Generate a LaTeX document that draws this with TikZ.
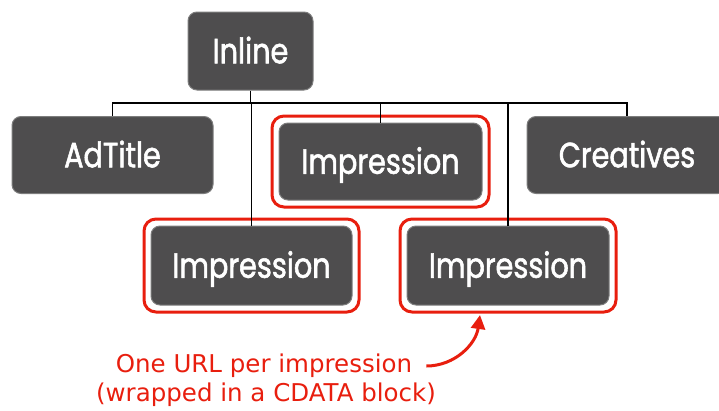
\documentclass[tikz,border=0pt]{standalone}
\usepackage{fontspec}
\setmainfont{Poppins}[FakeStretch=0.82, FakeBold=1.6]
\newfontfamily\notefont{DejaVu Sans}
\usetikzlibrary{arrows.meta,fit}
\definecolor{boxgray}{RGB}{78,77,78}
\definecolor{boxrim}{RGB}{125,125,125}
\definecolor{notered}{RGB}{232,30,14}
\begin{document}
\begin{tikzpicture}[x=1pt,y=-1pt,
    box/.style={fill=boxgray, draw=boxrim, line width=1pt, rounded corners=9pt,
      text=white, inner sep=0pt, minimum width=201pt, minimum height=77pt,
      font=\fontsize{35}{35}\selectfont, text height=24.5pt, text depth=0pt},
    frame/.style={draw=notered, line width=3pt, rounded corners=12pt, inner sep=6.5pt},
    link/.style={line width=1.4pt},
    note/.style={text=notered, inner sep=0pt, font=\notefont\fontsize{24.5}{24.5}\selectfont}]
    \useasboundingbox (0,0) rectangle (719,410);

    \node[box, minimum width=125pt, minimum height=78pt] (inline) at (250.5,51) {Inline};
    \node[box] (adtitle) at (112.5,155) {AdTitle};
    \node[box, minimum width=203pt] (impmid) at (380.5,161.5) {Impression};
    \node[box, minimum width=200pt] (creatives) at (627,155) {Creatives};
    \node[box, minimum height=79pt] (impleft) at (251.5,265.5) {Impression};
    \node[box, minimum width=202pt, minimum height=79pt] (impright) at (508,265.5) {Impression};

    \node[frame, fit=(impmid)] (framemid) {};
    \node[frame, fit=(impleft)] (frameleft) {};
    \node[frame, fit=(impright)] (frameright) {};

    \coordinate (bar) at (250.5,103);
    \coordinate (tip) at (480,315);
    \draw[link] (inline.south) -- (bar);
    \draw[link] (bar) -| (adtitle.north);
    \draw[link] (bar) -| (impmid.north);
    \draw[link] (bar) -| (creatives.north);
    \draw[link] (bar) -| (impleft.north);
    \draw[link] (bar) -| (impright.north);

    \node[note] (noteone) at (264,366) {One URL per impression};
    \node[note] (notetwo) at (266,395) {(wrapped in a CDATA block)};
    \draw[notered, line width=3pt, -{Triangle[length=14pt,width=14pt]}]
      ([xshift=14pt]noteone.east) to[out=0,in=262] (tip);
\end{tikzpicture}
\end{document}
